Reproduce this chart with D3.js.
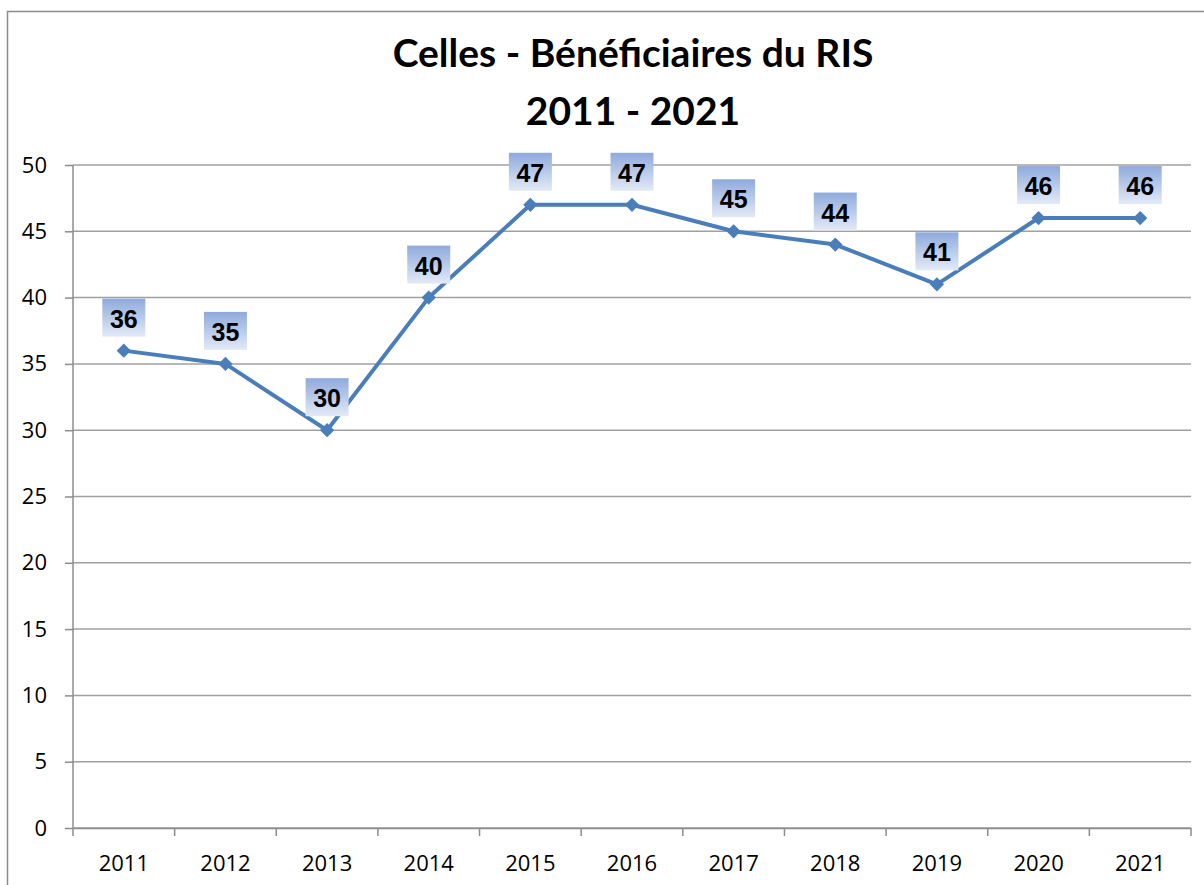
<!DOCTYPE html>
<html lang="fr">
<head>
<meta charset="UTF-8">
<title>Celles - Bénéficiaires du RIS</title>
<style>
body { margin: 0; background: #fff; }
svg { display: block; }
.tick text { font-family: "Open Sans", Lato, sans-serif; font-weight: 400; font-size: 22px; fill: #000; }
.title { font-family: Lato, "Open Sans", sans-serif; font-weight: bold; font-size: 39px; }
.lbl { font-family: "Liberation Sans", Arial, sans-serif; font-weight: bold; font-size: 25px; }
</style>
</head>
<body>
<svg id="chart"></svg>
<script src="https://cdnjs.cloudflare.com/ajax/libs/d3/7.8.5/d3.min.js"></script>
<script>
const years = ["2011", "2012", "2013", "2014", "2015", "2016", "2017", "2018", "2019", "2020", "2021"];
const beneficiaires = [36, 35, 30, 40, 47, 47, 45, 44, 41, 46, 46];
const yTicks = [0, 5, 10, 15, 20, 25, 30, 35, 40, 45, 50];
const titleLines = ["Celles - Bénéficiaires du RIS", "2011 - 2021"];

const W = 1204, H = 885;
const margin = {top: 165, right: 13, bottom: 57, left: 73};
const innerW = W - margin.left - margin.right;
const innerH = H - margin.top - margin.bottom;

const svg = d3.select("#chart").attr("width", W).attr("height", H);

// gradient for the value labels
const grad = svg.append("defs").append("linearGradient")
  .attr("id", "lblGrad").attr("x1", 0).attr("y1", 0).attr("x2", 0).attr("y2", 1);
grad.append("stop").attr("offset", "0%").attr("stop-color", "#8eaadc");
grad.append("stop").attr("offset", "100%").attr("stop-color", "#e3eaf7");

// chart border
svg.append("rect")
  .attr("x", 7.5).attr("y", 11.5).attr("width", W).attr("height", H)
  .attr("fill", "none").attr("stroke", "#8c8c8c").attr("stroke-width", 1.5);

svg.selectAll(".title").data(titleLines).enter().append("text")
  .attr("class", "title")
  .attr("x", 633)
  .attr("y", (d, i) => 67 + i * 58)
  .attr("text-anchor", "middle")
  .text(d => d);

const g = svg.append("g").attr("transform", `translate(${margin.left},${margin.top})`);

const x = d3.scaleBand().domain(years).range([0, innerW]);
const y = d3.scaleLinear().domain([0, 50]).range([innerH, 0]);

// gridlines
g.selectAll(".grid").data(yTicks).enter().append("line")
  .attr("x1", 0).attr("x2", innerW)
  .attr("y1", d => y(d)).attr("y2", d => y(d))
  .attr("stroke", "#a0a0a0").attr("stroke-width", 1.5);

const yAxis = g.append("g")
  .call(d3.axisLeft(y).tickValues(yTicks).tickSize(8).tickPadding(18));
yAxis.selectAll("line").attr("stroke", "#8c8c8c").attr("stroke-width", 1.5);
yAxis.select(".domain").remove();
g.append("line").attr("x1", 0).attr("x2", 0).attr("y1", 0).attr("y2", innerH)
  .attr("stroke", "#8c8c8c").attr("stroke-width", 1.5);

// category axis: ticks on band boundaries
const xAxis = g.append("g").attr("transform", `translate(0,${innerH})`)
  .call(d3.axisBottom(x).tickSize(0).tickPadding(27));
xAxis.select(".domain").attr("stroke", "#8c8c8c").attr("stroke-width", 1.5);
const bounds = years.map(d => x(d)).concat([innerW]);
xAxis.selectAll(".bound").data(bounds).enter().append("line")
  .attr("x1", d => d).attr("x2", d => d).attr("y1", 0).attr("y2", 8)
  .attr("stroke", "#8c8c8c").attr("stroke-width", 1.5);

const cx = d => x(d) + x.bandwidth() / 2;

const line = d3.line().x((d, i) => cx(years[i])).y(d => y(d));
g.append("path").datum(beneficiaires)
  .attr("d", line).attr("fill", "none")
  .attr("stroke", "#4a7ebb").attr("stroke-width", 4).attr("stroke-linejoin", "round");

g.selectAll(".mk").data(beneficiaires).enter().append("path")
  .attr("d", d3.symbol().type(d3.symbolDiamond2).size(130))
  .attr("transform", (d, i) => `translate(${cx(years[i])},${y(d)})`)
  .attr("fill", "#4a7ebb");

const lbl = g.selectAll(".lblg").data(beneficiaires).enter().append("g")
  .attr("transform", (d, i) => `translate(${cx(years[i])},${y(d) - 14})`);
lbl.append("rect")
  .attr("x", -21.5).attr("y", -38).attr("width", 43).attr("height", 38)
  .attr("fill", "url(#lblGrad)");
lbl.append("text").attr("class", "lbl")
  .attr("x", 0).attr("y", -9).attr("text-anchor", "middle")
  .text(d => d);
</script>
</body>
</html>
